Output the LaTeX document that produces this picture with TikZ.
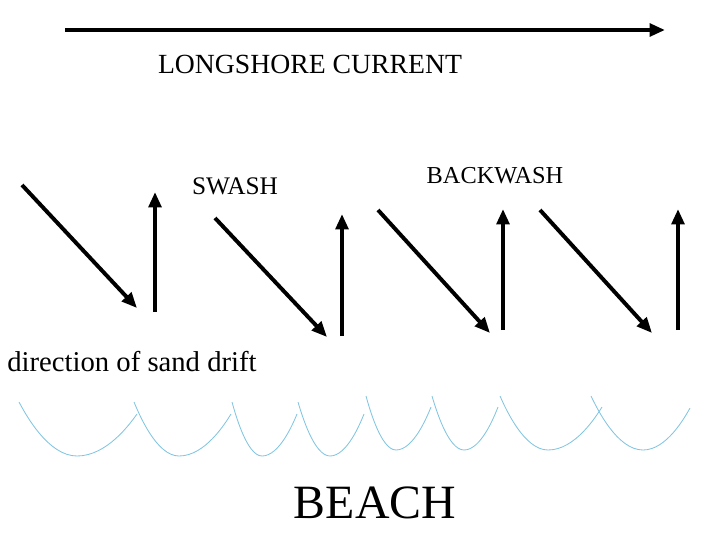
\documentclass[tikz,border=0pt]{standalone}
\usepackage{fontspec}
\setmainfont{Liberation Serif}
\usetikzlibrary{arrows.meta}

\begin{document}
\begin{tikzpicture}[x=0.025cm, y=-0.025cm, >={Triangle[length=11pt,width=9pt]},
    flow/.style = {->, line width=2.8pt},
    wave/.style = {draw=cyan!60!teal!55, line width=0.6pt},
    lbl/.style = {inner sep=0pt, anchor=base}]
    \useasboundingbox (0,0) rectangle (720,540);

    % Longshore current
    \coordinate (c0) at (65,30);
    \coordinate (c1) at (665,30);
    \draw[flow] (c0) -- (c1);
    \node[lbl, font=\fontsize{19.7}{22}\selectfont] (lc) at (310,73) {LONGSHORE CURRENT};

    % Labels
    \node[lbl, font=\fontsize{18}{20}\selectfont] (sw) at (235,194) {SWASH};
    \node[lbl, font=\fontsize{17.3}{20}\selectfont] (bw) at (495,183) {BACKWASH};
    \node[lbl, anchor=base west, font=\fontsize{20.4}{22}\selectfont] (sd) at (7,371) {direction of sand drift};
    \node[lbl, font=\fontsize{34}{36}\selectfont] (bc) at (375,518) {BEACH};

    % Swash and backwash arrows
    \coordinate (s1a) at (22,185);  \coordinate (s1b) at (137,308);
    \coordinate (s2a) at (215,218); \coordinate (s2b) at (327,337);
    \coordinate (s3a) at (378,210); \coordinate (s3b) at (490,333);
    \coordinate (s4a) at (540,210); \coordinate (s4b) at (652,333);
    \coordinate (b1a) at (155,312); \coordinate (b1b) at (155,192);
    \coordinate (b2a) at (342,336); \coordinate (b2b) at (342,214);
    \coordinate (b3a) at (503,330); \coordinate (b3b) at (503,209);
    \coordinate (b4a) at (678,330); \coordinate (b4b) at (678,209);
    \foreach \i in {1,...,4} {
        \draw[flow] (s\i a) -- (s\i b);
        \draw[flow] (b\i a) -- (b\i b);
    }

    % Waves
    \foreach \sx/\sy/\bx/\by/\ex/\ey in {19/402/77/456/137/414, 134/402/179/456/231/414,
        232/402/262/456/297/414, 298/402/330/456/364/414, 366/396/396/450/431/407,
        432/396/464/450/498/407, 500/396/548/450/602/407, 591/396/643/450/690/408}
        \draw[wave] (\sx,\sy) parabola bend (\bx,\by) (\ex,\ey);
\end{tikzpicture}
\end{document}
